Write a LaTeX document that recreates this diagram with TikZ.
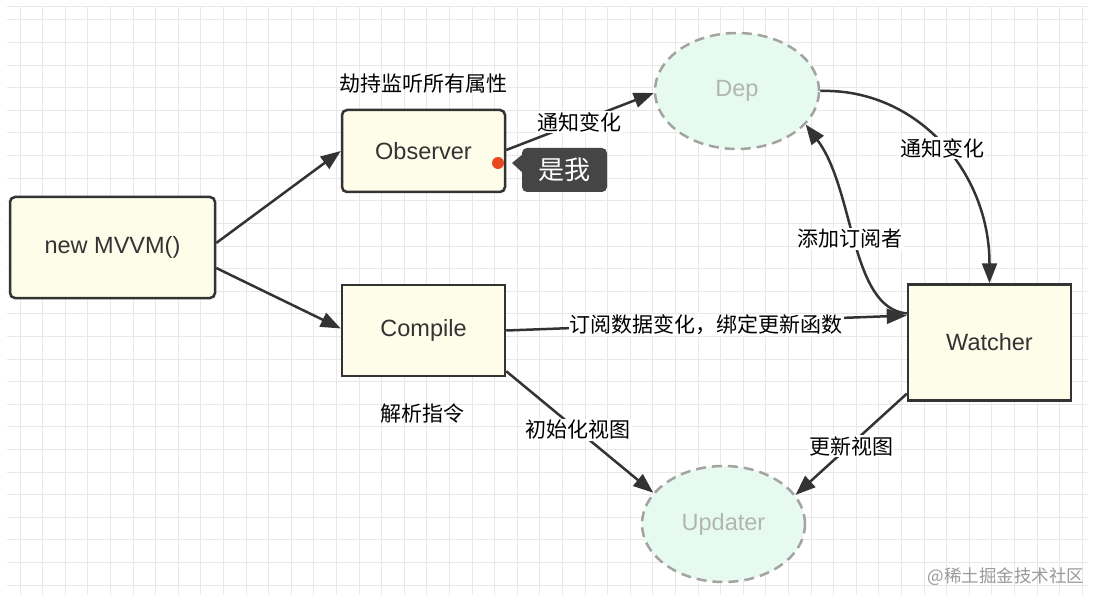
\documentclass[tikz,border=0pt]{standalone}
\usepackage{fontspec}
\setmainfont{Liberation Sans}
\newfontfamily\cjk{Noto Sans CJK SC}
\usetikzlibrary{arrows.meta,shapes.geometric,calc}
\definecolor{gridc}{HTML}{E8E8E8}
\definecolor{boxfill}{HTML}{FDFDEA}
\definecolor{boxdraw}{HTML}{333333}
\definecolor{ellfill}{HTML}{E6FAEF}
\definecolor{elldraw}{HTML}{A3A3A3}
\definecolor{elltext}{HTML}{B0B6B2}
\definecolor{tipbg}{HTML}{454545}
\definecolor{reddot}{HTML}{E9471E}
\definecolor{wmark}{HTML}{9A9A9A}
\tikzset{
  gridline/.style={gridc, line width=1pt},
  boxnode/.style={draw=boxdraw, fill=boxfill, line width=2.5pt, inner sep=0pt,
    text=boxdraw, font=\fontsize{23.5}{25}\selectfont},
  ellnode/.style={ellipse, draw=elldraw, fill=ellfill, line width=2.5pt,
    dash pattern=on 10pt off 6pt, inner sep=0pt, text=elltext,
    font=\fontsize{23.5}{25}\selectfont},
  conn/.style={draw=boxdraw, line width=2.5pt,
    -{Triangle[length=20pt,width=15pt]}},
  lbl/.style={font=\cjk\fontsize{21}{23}\selectfont, text=black, inner sep=1pt},
  lblbg/.style={lbl, fill=white},
}
\begin{document}
\begin{tikzpicture}[x=1pt,y=-1pt]
\useasboundingbox (0,0) rectangle (1105,604);
\fill[white] (0,0) rectangle (1105,604);
% grid
\foreach \i in {0,...,47} { \draw[gridline] ({20+22.6*\i},7) -- ({20+22.6*\i},595); }
\foreach \j in {0,...,25} { \draw[gridline] (7,{20+22.6*\j}) -- (1088,{20+22.6*\j}); }
\draw[gridline] (7,7) -- (1088,7);

% nodes
\node[boxnode, rounded corners=5pt, minimum width=205pt, minimum height=101pt] (mvvm) at (112.5,247.5) {new MVVM()};
\node[boxnode, rounded corners=5pt, minimum width=163pt, minimum height=82pt] (observer) at (423.5,151) {Observer};
\node[boxnode, minimum width=163pt, minimum height=91pt] (compile) at (423.5,330.5) {Compile};
\node[boxnode, minimum width=163pt, minimum height=116pt] (watcher) at (989.5,342.5) {Watcher};
\node[ellnode, minimum width=164pt, minimum height=116pt] (dep) at (737,91) {Dep};
\node[ellnode, minimum width=163pt, minimum height=116pt] (updater) at (723.5,524) {Updater};

% connectors
\draw[conn] ([yshift=4.5pt]mvvm.east) -- (observer.west);
\draw[conn] ([yshift=-20.5pt]mvvm.east) -- ([yshift=2pt]compile.west);
\draw[conn] ([yshift=1pt]observer.east) -- ([yshift=-2pt]dep.west);
\draw[conn] (compile.east) -- ([yshift=27pt]watcher.west);
\draw[conn] ([yshift=29pt]watcher.west) .. controls (850,308) and (855,190) .. (dep.-26);
\draw[conn] (dep.east) .. controls (915,88) and (989.5,170) .. (watcher.north);
\draw[conn] ([yshift=6pt]compile.south east) -- (updater.156);
\draw[conn] ([yshift=8pt]watcher.south west) -- (updater.22);

% labels
\node[lbl] (l1) at (423,84) {劫持监听所有属性};
\node[lblbg] (l2) at (579,122) {通知变化};
\node[lblbg] (l3) at (942,148) {通知变化};
\node[lblbg] (l4) at (850,239) {添加订阅者};
\node[lblbg] (l5) at (706,325) {订阅数据变化，绑定更新函数};
\node[lbl] (l6) at (422,414) {解析指令};
\node[lblbg] (l7) at (578,430) {初始化视图};
\node[lblbg] (l8) at (851,446) {更新视图};

% tooltip
\fill[reddot] (498,163) circle (6pt);
\node[fill=tipbg, rounded corners=5pt, minimum width=85pt, minimum height=44pt, inner sep=0pt,
  text=white, font=\cjk\fontsize{26}{28}\selectfont] (tip) at (564.5,170) {是我};
\fill[tipbg] (tip.west |- 0,155) -- (512,163) -- (tip.west |- 0,172) -- cycle;

% watermark
\node[text=wmark, font=\cjk\fontsize{17.5}{19}\selectfont, inner sep=0pt] (wm) at (1006,577) {@稀土掘金技术社区};
\end{tikzpicture}
\end{document}
